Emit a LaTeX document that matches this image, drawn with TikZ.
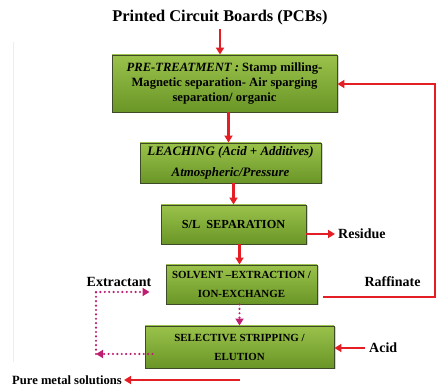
\documentclass[tikz,border=0pt]{standalone}
\usepackage{fontspec}
\setmainfont{Liberation Serif}
\usetikzlibrary{arrows.meta,shadows,calc}
\definecolor{flowred}{HTML}{E31E24}
\definecolor{loopmag}{HTML}{BE1E70}
\definecolor{boxtop}{HTML}{9AC24B}
\definecolor{boxbot}{HTML}{6A9627}
\definecolor{boxedge}{HTML}{3E4A28}
\tikzset{
  stagebox/.style={draw=boxedge, line width=0.9pt, top color=boxtop, bottom color=boxbot,
    align=center, inner sep=0pt, font=\bfseries,
    drop shadow={shadow xshift=1.5pt, shadow yshift=-1.5pt, opacity=0.35}},
  redtip/.style={-{Triangle[length=7pt,width=8pt]}},
  redflow/.style={draw=flowred, line width=2.4pt, redtip},
  redline/.style={draw=flowred, line width=2.4pt},
  dotflow/.style={draw=loopmag, line width=2.4pt, line cap=round, dash pattern=on 0pt off 4.4pt},
  dottip/.style={-{Triangle[length=7pt,width=8pt,line cap=butt]}},
  sidelabel/.style={font=\bfseries\fontsize{14}{16}\selectfont, inner sep=0pt}
}
\begin{document}
\begin{tikzpicture}[x=1pt,y=-1pt]
\useasboundingbox (0,0) rectangle (437,387);
% faint frame line on the left
\draw[line width=0.8pt, black!7] (13,42) -- (13,362);

\node[font=\bfseries\fontsize{16.4}{18}\selectfont] (title) at (220,18) {Printed Circuit Boards (PCBs)};

\node[stagebox, minimum width=225pt, minimum height=57pt, font=\bfseries\fontsize{12.6}{15.2}\selectfont]
  (pre) at (224.5,83.5) {\textit{PRE-TREATMENT :} Stamp milling-\\Magnetic separation- Air sparging\\separation/ organic};
\node[stagebox, minimum width=181pt, minimum height=40pt, font=\bfseries\itshape\fontsize{12.9}{21}\selectfont]
  (leach) at (230.5,163) {LEACHING (Acid + Additives)\\Atmospheric/Pressure};
\node[stagebox, minimum width=145pt, minimum height=39pt, font=\bfseries\fontsize{12.3}{14}\selectfont]
  (sl) at (233.5,224.5) {S/L\ \ SEPARATION};
\node[stagebox, minimum width=151pt, minimum height=39pt, font=\bfseries\fontsize{10.9}{19}\selectfont]
  (sx) at (241.5,284.5) {SOLVENT --EXTRACTION /\\ION-EXCHANGE};
\node[stagebox, minimum width=189pt, minimum height=42pt, font=\bfseries\fontsize{10.9}{19}\selectfont]
  (strip) at (239.5,347) {SELECTIVE STRIPPING /\\ELUTION};

\node[sidelabel, anchor=west] (residue) at (338,234) {Residue};
\node[sidelabel] (raff) at (392.5,282) {Raffinate};
\node[sidelabel] (extr) at (119,282) {Extractant};
\node[sidelabel, anchor=west] (acid) at (369,348) {Acid};
\node[sidelabel, anchor=west, font=\bfseries\fontsize{12.6}{14}\selectfont] (pure) at (12,380) {Pure metal solutions};

% main process chain
\draw[redflow] (title.south) -- (title.south |- pre.north);
\draw[redflow] ([xshift=-2pt]leach.north |- pre.south) -- ([xshift=-2pt]leach.north);
\draw[redflow] (sl.north |- leach.south) -- (sl.north);
\draw[redflow] ([xshift=-2pt]sx.north |- sl.south) -- ([xshift=-2pt]sx.north);

% side streams
\draw[redflow] (residue.west -| sl.east) -- ([xshift=-3pt]residue.west);
\coordinate (rA) at (435,297);
\coordinate (rB) at (435,84);
\draw[redline, redtip] ([xshift=6pt,yshift=-12.5pt]sx.east) -- (rA) -- (rB) -- (rB -| pre.east);
\draw[redflow] ([xshift=-4pt]acid.west) -- (acid.west -| strip.east);
\draw[redflow] (strip.south |- pure.east) -- ([xshift=2pt]pure.east);

% extractant recycle loop
\coordinate (c1) at (96,354);
\coordinate (c2) at (96,292);
\draw[dotflow, dottip] ([xshift=-2pt]sx.south) -- ([xshift=-2pt]sx.south |- strip.north);
\draw[dotflow, dottip] ([xshift=8pt,yshift=-7pt]strip.west) -- (c1);
\draw[dotflow] (c1) -- (c2);
\draw[dotflow, dottip] (c2) -- ([xshift=-16pt]c2 -| sx.west);
\end{tikzpicture}
\end{document}
